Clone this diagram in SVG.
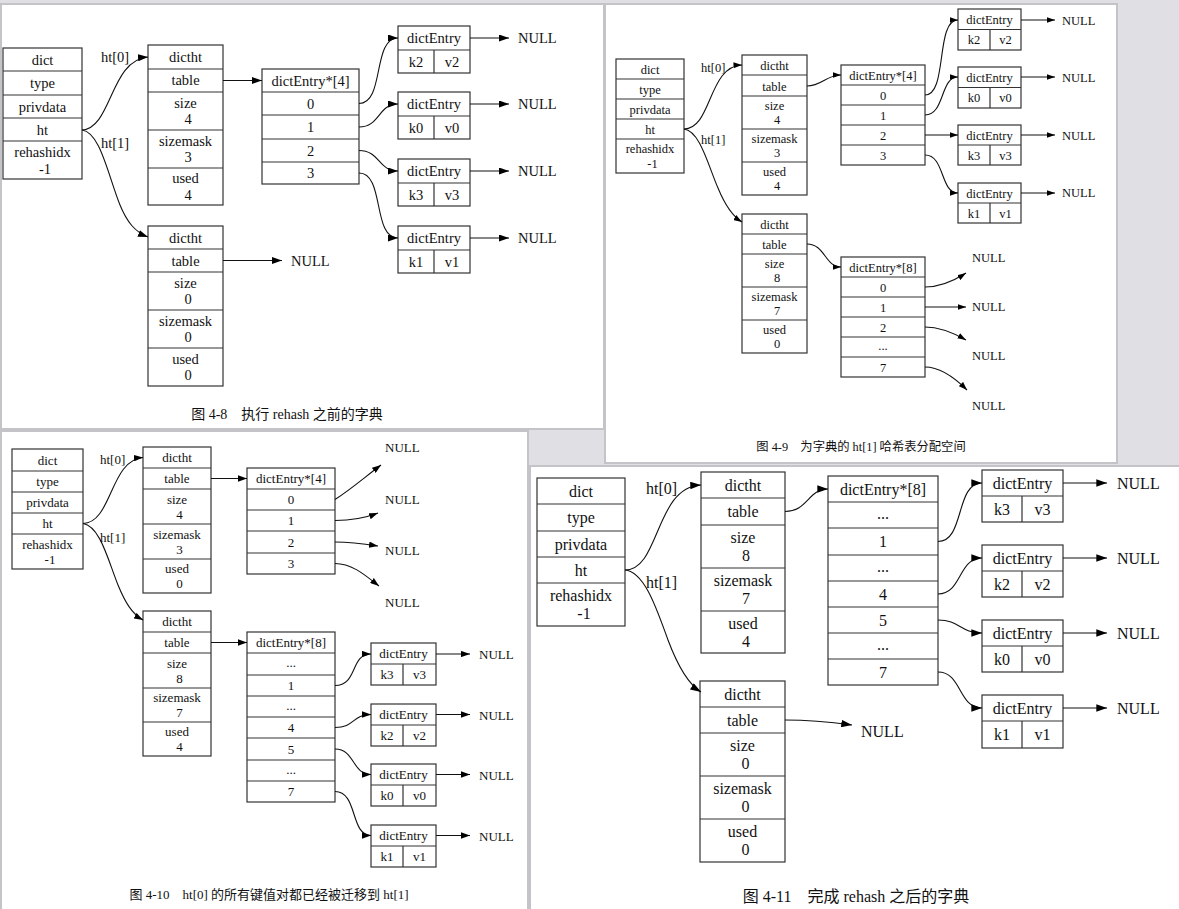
<svg xmlns="http://www.w3.org/2000/svg" width="1179" height="909" viewBox="0 0 1179 909">
<style>
text{font-family:"Liberation Serif","Noto Sans CJK SC",serif;fill:#111;text-anchor:middle}
.f1{font-size:14.5px}.f2{font-size:12.5px}.f3{font-size:13px}.f4{font-size:16px}
.st{text-anchor:start}
.bx rect{fill:#fff;stroke:#333;stroke-width:1.2}
.bx path{fill:none;stroke:#333;stroke-width:1.2}
.e path{fill:none;stroke:#111;stroke-width:1.1}
.panel{fill:#fff;stroke:#c4c4c8;stroke-width:2}
.cap{font-family:"Liberation Serif","Noto Sans CJK SC",serif}
</style>
<defs>
<marker id="a1" viewBox="0 0 10 7" refX="10" refY="3.5" markerWidth="10" markerHeight="7" markerUnits="userSpaceOnUse" orient="auto"><path d="M0,0L10,3.5L0,7z" fill="#000"/></marker>
<marker id="a2" viewBox="0 0 10 7" refX="10" refY="3.5" markerWidth="8.5" markerHeight="6" markerUnits="userSpaceOnUse" orient="auto"><path d="M0,0L10,3.5L0,7z" fill="#000"/></marker>
<marker id="a3" viewBox="0 0 10 7" refX="10" refY="3.5" markerWidth="9" markerHeight="6.5" markerUnits="userSpaceOnUse" orient="auto"><path d="M0,0L10,3.5L0,7z" fill="#000"/></marker>
<marker id="a4" viewBox="0 0 10 7" refX="10" refY="3.5" markerWidth="11" markerHeight="7.5" markerUnits="userSpaceOnUse" orient="auto"><path d="M0,0L10,3.5L0,7z" fill="#000"/></marker>
</defs>
<rect x="0" y="0" width="1179" height="909" fill="#dfdfe4"/>
<rect class="panel" x="1" y="4" width="603" height="425"/>
<rect class="panel" x="605" y="4" width="512" height="459"/>
<rect class="panel" x="1" y="431" width="527" height="480"/>
<rect class="panel" x="530" y="466" width="652" height="445"/>

<!-- ================= Panel 1 : fig 4-8 ================= -->
<g id="p1-dict" class="bx">
<rect x="3" y="48" width="79" height="131"/>
<path d="M3,71H82M3,95H82M3,118H82M3,141H82"/>
<text class="f1" x="42.5" y="65">dict</text>
<text class="f1" x="42.5" y="88">type</text>
<text class="f1" x="42.5" y="112">privdata</text>
<text class="f1" x="42.5" y="135">ht</text>
<text class="f1" x="42.5" y="157">rehashidx</text>
<text class="f1" x="45" y="173.5">-1</text>
</g>
<g id="p1-ht0" class="bx">
<rect x="148" y="45" width="75" height="160"/>
<path d="M148,69H223M148,92H223M148,130H223M148,168H223"/>
<text class="f1" x="185.5" y="62">dictht</text>
<text class="f1" x="185.5" y="85">table</text>
<text class="f1" x="185.5" y="107.5">size</text>
<text class="f1" x="188" y="124">4</text>
<text class="f1" x="185.5" y="145.5">sizemask</text>
<text class="f1" x="188" y="162">3</text>
<text class="f1" x="185.5" y="183">used</text>
<text class="f1" x="188" y="199.5">4</text>
</g>
<g id="p1-ht1" class="bx">
<rect x="148" y="226" width="75" height="160"/>
<path d="M148,249H223M148,272H223M148,310H223M148,348H223"/>
<text class="f1" x="185.5" y="242.5">dictht</text>
<text class="f1" x="185.5" y="265.5">table</text>
<text class="f1" x="185.5" y="287.5">size</text>
<text class="f1" x="188" y="304">0</text>
<text class="f1" x="185.5" y="325.5">sizemask</text>
<text class="f1" x="188" y="342">0</text>
<text class="f1" x="185.5" y="363.5">used</text>
<text class="f1" x="188" y="380">0</text>
</g>
<g id="p1-table" class="bx">
<rect x="262" y="69" width="97" height="115"/>
<path d="M262,92H359M262,115H359M262,139H359M262,162H359"/>
<text class="f1" x="310.5" y="85.5">dictEntry*[4]</text>
<text class="f1" x="310.5" y="108.5">0</text>
<text class="f1" x="310.5" y="132">1</text>
<text class="f1" x="310.5" y="155.5">2</text>
<text class="f1" x="310.5" y="178">3</text>
</g>
<g id="p1-e2" class="bx">
<rect x="398" y="26" width="72" height="47"/><path d="M398,50H470M434,50V73"/>
<text class="f1" x="434" y="43">dictEntry</text><text class="f1" x="416" y="66.5">k2</text><text class="f1" x="452" y="66.5">v2</text>
<text class="f1 st" x="518" y="43">NULL</text>
</g>
<g id="p1-e0" class="bx">
<rect x="398" y="92" width="72" height="47"/><path d="M398,116H470M434,116V139"/>
<text class="f1" x="434" y="109">dictEntry</text><text class="f1" x="416" y="132.5">k0</text><text class="f1" x="452" y="132.5">v0</text>
<text class="f1 st" x="518" y="109">NULL</text>
</g>
<g id="p1-e3" class="bx">
<rect x="398" y="159" width="72" height="47"/><path d="M398,183H470M434,183V206"/>
<text class="f1" x="434" y="176">dictEntry</text><text class="f1" x="416" y="199.5">k3</text><text class="f1" x="452" y="199.5">v3</text>
<text class="f1 st" x="518" y="176">NULL</text>
</g>
<g id="p1-e1" class="bx">
<rect x="398" y="226" width="72" height="47"/><path d="M398,250H470M434,250V273"/>
<text class="f1" x="434" y="243">dictEntry</text><text class="f1" x="416" y="266.5">k1</text><text class="f1" x="452" y="266.5">v1</text>
<text class="f1 st" x="518" y="243">NULL</text>
</g>
<g id="p1-null" class="bx"><text class="f1 st" x="291" y="265.5">NULL</text></g>
<g id="p1-edges" class="e">
<path d="M82,130C112,128 110,60 148,57" marker-end="url(#a1)"/>
<path d="M82,130C100,132 108,175 120,205C127,222 135,232 148,237" marker-end="url(#a1)"/>
<path d="M223,80.5H262" marker-end="url(#a1)"/>
<path d="M223,260.5H282" marker-end="url(#a1)"/>
<path d="M359,103.5C385,103.5 372,38 398,38" marker-end="url(#a1)"/>
<path d="M359,127C380,127 378,104 398,104" marker-end="url(#a1)"/>
<path d="M359,150.5C380,150.5 378,171 398,171" marker-end="url(#a1)"/>
<path d="M359,173C385,173 372,238 398,238" marker-end="url(#a1)"/>
<path d="M470,38H509" marker-end="url(#a1)"/>
<path d="M470,104H509" marker-end="url(#a1)"/>
<path d="M470,171H509" marker-end="url(#a1)"/>
<path d="M470,238H509" marker-end="url(#a1)"/>
<text class="f1 st" x="101" y="62">ht[0]</text>
<text class="f1 st" x="101" y="148">ht[1]</text>
</g>
<text class="cap" x="287" y="419" font-size="14">图 4-8　执行 rehash 之前的字典</text>

<!-- ================= Panel 2 : fig 4-9 ================= -->
<g id="p2-dict" class="bx">
<rect x="616" y="59" width="68" height="114"/>
<path d="M616,79H684M616,99H684M616,119H684M616,139H684"/>
<text class="f2" x="650" y="73.5">dict</text>
<text class="f2" x="650" y="93.5">type</text>
<text class="f2" x="650" y="113.5">privdata</text>
<text class="f2" x="650" y="133.5">ht</text>
<text class="f2" x="650" y="153">rehashidx</text>
<text class="f2" x="652.5" y="167.5">-1</text>
</g>
<g id="p2-ht0" class="bx">
<rect x="742" y="55" width="65" height="140"/>
<path d="M742,75H807M742,96H807M742,129H807M742,162H807"/>
<text class="f2" x="774.5" y="69.5">dictht</text>
<text class="f2" x="774.5" y="90.5">table</text>
<text class="f2" x="774.5" y="109.5">size</text>
<text class="f2" x="777" y="124">4</text>
<text class="f2" x="774.5" y="142.5">sizemask</text>
<text class="f2" x="777" y="157">3</text>
<text class="f2" x="774.5" y="175.5">used</text>
<text class="f2" x="777" y="190">4</text>
</g>
<g id="p2-ht1" class="bx">
<rect x="742" y="214" width="65" height="139"/>
<path d="M742,234H807M742,254H807M742,287H807M742,320H807"/>
<text class="f2" x="774.5" y="228.5">dictht</text>
<text class="f2" x="774.5" y="248.5">table</text>
<text class="f2" x="774.5" y="267.5">size</text>
<text class="f2" x="777" y="282">8</text>
<text class="f2" x="774.5" y="300.5">sizemask</text>
<text class="f2" x="777" y="315">7</text>
<text class="f2" x="774.5" y="333.5">used</text>
<text class="f2" x="777" y="348">0</text>
</g>
<g id="p2-table4" class="bx">
<rect x="841" y="65" width="84" height="100"/>
<path d="M841,85H925M841,105H925M841,125H925M841,145H925"/>
<text class="f2" x="883" y="79.5">dictEntry*[4]</text>
<text class="f2" x="883" y="99.5">0</text>
<text class="f2" x="883" y="119.5">1</text>
<text class="f2" x="883" y="139.5">2</text>
<text class="f2" x="883" y="159.5">3</text>
</g>
<g id="p2-e2" class="bx">
<rect x="958" y="9" width="63" height="41"/><path d="M958,29.5H1021M990,29.5V50"/>
<text class="f2" x="989.5" y="23.5">dictEntry</text><text class="f2" x="974" y="44">k2</text><text class="f2" x="1005.5" y="44">v2</text>
<text class="f2 st" x="1062" y="24.5">NULL</text>
</g>
<g id="p2-e0" class="bx">
<rect x="958" y="67" width="63" height="41"/><path d="M958,87.5H1021M990,87.5V108"/>
<text class="f2" x="989.5" y="81.5">dictEntry</text><text class="f2" x="974" y="102">k0</text><text class="f2" x="1005.5" y="102">v0</text>
<text class="f2 st" x="1062" y="81.5">NULL</text>
</g>
<g id="p2-e3" class="bx">
<rect x="958" y="125" width="63" height="40"/><path d="M958,145H1021M990,145V165"/>
<text class="f2" x="989.5" y="139.5">dictEntry</text><text class="f2" x="974" y="159.5">k3</text><text class="f2" x="1005.5" y="159.5">v3</text>
<text class="f2 st" x="1062" y="139.5">NULL</text>
</g>
<g id="p2-e1" class="bx">
<rect x="958" y="183" width="63" height="40"/><path d="M958,203H1021M990,203V223"/>
<text class="f2" x="989.5" y="197.5">dictEntry</text><text class="f2" x="974" y="217.5">k1</text><text class="f2" x="1005.5" y="217.5">v1</text>
<text class="f2 st" x="1062" y="196.5">NULL</text>
</g>
<g id="p2-table8" class="bx">
<rect x="841" y="257" width="84" height="120"/>
<path d="M841,277H925M841,297H925M841,317H925M841,337H925M841,357H925"/>
<text class="f2" x="883" y="271.5">dictEntry*[8]</text>
<text class="f2" x="883" y="291.5">0</text>
<text class="f2" x="883" y="311.5">1</text>
<text class="f2" x="883" y="331.5">2</text>
<text class="f2" x="883" y="350">...</text>
<text class="f2" x="883" y="371.5">7</text>
</g>
<g id="p2-nulls" class="bx">
<text class="f2 st" x="972" y="262">NULL</text>
<text class="f2 st" x="972" y="311">NULL</text>
<text class="f2 st" x="972" y="360">NULL</text>
<text class="f2 st" x="972" y="410">NULL</text>
</g>
<g id="p2-edges" class="e">
<path d="M684,129C712,129 708,66 742,65" marker-end="url(#a2)"/>
<path d="M684,129C700,131 708,165 718,188C725,205 732,216 742,222" marker-end="url(#a2)"/>
<path d="M807,86C822,86 826,75 841,75" marker-end="url(#a2)"/>
<path d="M925,95C948,95 935,20 958,20" marker-end="url(#a2)"/>
<path d="M925,115C945,115 940,77 958,77" marker-end="url(#a2)"/>
<path d="M925,135H958" marker-end="url(#a2)"/>
<path d="M925,155C945,155 940,193 958,193" marker-end="url(#a2)"/>
<path d="M1021,20H1055" marker-end="url(#a2)"/>
<path d="M1021,77H1055" marker-end="url(#a2)"/>
<path d="M1021,135H1055" marker-end="url(#a2)"/>
<path d="M1021,193H1055" marker-end="url(#a2)"/>
<path d="M807,244C825,244 825,267 841,267" marker-end="url(#a2)"/>
<path d="M925,287C940,287 952,282 966,273" marker-end="url(#a2)"/>
<path d="M925,307H966" marker-end="url(#a2)"/>
<path d="M925,327C940,327 952,332 966,340" marker-end="url(#a2)"/>
<path d="M925,367C940,367 955,378 967,390" marker-end="url(#a2)"/>
<text class="f2 st" x="701" y="72">ht[0]</text>
<text class="f2 st" x="701" y="143.5">ht[1]</text>
</g>
<text class="cap" x="861" y="451" font-size="12.3">图 4-9　为字典的 ht[1] 哈希表分配空间</text>

<!-- ================= Panel 3 : fig 4-10 ================= -->
<g id="p3-dict" class="bx">
<rect x="12" y="449" width="71" height="120"/>
<path d="M12,471H83M12,492H83M12,513H83M12,534H83"/>
<text class="f3" x="47.5" y="464.5">dict</text>
<text class="f3" x="47.5" y="486">type</text>
<text class="f3" x="47.5" y="507">privdata</text>
<text class="f3" x="47.5" y="528">ht</text>
<text class="f3" x="47.5" y="548.5">rehashidx</text>
<text class="f3" x="50" y="563.5">-1</text>
</g>
<g id="p3-ht0" class="bx">
<rect x="143" y="447" width="68" height="146"/>
<path d="M143,468H211M143,489H211M143,524H211M143,559H211"/>
<text class="f3" x="177" y="462">dictht</text>
<text class="f3" x="177" y="483">table</text>
<text class="f3" x="177" y="503.5">size</text>
<text class="f3" x="179.5" y="518.5">4</text>
<text class="f3" x="177" y="538.5">sizemask</text>
<text class="f3" x="179.5" y="553.5">3</text>
<text class="f3" x="177" y="573">used</text>
<text class="f3" x="179.5" y="588">0</text>
</g>
<g id="p3-ht1" class="bx">
<rect x="143" y="611" width="68" height="145"/>
<path d="M143,632H211M143,653H211M143,688H211M143,722H211"/>
<text class="f3" x="177" y="626">dictht</text>
<text class="f3" x="177" y="647">table</text>
<text class="f3" x="177" y="667.5">size</text>
<text class="f3" x="179.5" y="682.5">8</text>
<text class="f3" x="177" y="702">sizemask</text>
<text class="f3" x="179.5" y="717">7</text>
<text class="f3" x="177" y="736">used</text>
<text class="f3" x="179.5" y="751">4</text>
</g>
<g id="p3-table4" class="bx">
<rect x="247" y="468" width="88" height="106"/>
<path d="M247,489H335M247,510H335M247,531H335M247,553H335"/>
<text class="f3" x="291" y="483">dictEntry*[4]</text>
<text class="f3" x="291" y="504">0</text>
<text class="f3" x="291" y="525">1</text>
<text class="f3" x="291" y="546.5">2</text>
<text class="f3" x="291" y="568">3</text>
</g>
<g id="p3-nulls" class="bx">
<text class="f3 st" x="385" y="451.5">NULL</text>
<text class="f3 st" x="385" y="503.5">NULL</text>
<text class="f3 st" x="385" y="554.5">NULL</text>
<text class="f3 st" x="385" y="606.5">NULL</text>
</g>
<g id="p3-table8" class="bx">
<rect x="247" y="632" width="88" height="170"/>
<path d="M247,653H335M247,675H335M247,696H335M247,717H335M247,738H335M247,760H335M247,781H335"/>
<text class="f3" x="291" y="647">dictEntry*[8]</text>
<text class="f3" x="291" y="667">...</text>
<text class="f3" x="291" y="690">1</text>
<text class="f3" x="291" y="709.5">...</text>
<text class="f3" x="291" y="732">4</text>
<text class="f3" x="291" y="753.5">5</text>
<text class="f3" x="291" y="773.5">...</text>
<text class="f3" x="291" y="796">7</text>
</g>
<g id="p3-e3" class="bx">
<rect x="371" y="643" width="65" height="42"/><path d="M371,664H436M403,664V685"/>
<text class="f3" x="403.5" y="658">dictEntry</text><text class="f3" x="387" y="679">k3</text><text class="f3" x="419.5" y="679">v3</text>
<text class="f3 st" x="479" y="658.5">NULL</text>
</g>
<g id="p3-e2" class="bx">
<rect x="371" y="704" width="65" height="42"/><path d="M371,725H436M403,725V746"/>
<text class="f3" x="403.5" y="719">dictEntry</text><text class="f3" x="387" y="740">k2</text><text class="f3" x="419.5" y="740">v2</text>
<text class="f3 st" x="479" y="719.5">NULL</text>
</g>
<g id="p3-e0" class="bx">
<rect x="371" y="764" width="65" height="42"/><path d="M371,785H436M403,785V806"/>
<text class="f3" x="403.5" y="779">dictEntry</text><text class="f3" x="387" y="800">k0</text><text class="f3" x="419.5" y="800">v0</text>
<text class="f3 st" x="479" y="779.5">NULL</text>
</g>
<g id="p3-e1" class="bx">
<rect x="371" y="825" width="65" height="42"/><path d="M371,846H436M403,846V867"/>
<text class="f3" x="403.5" y="840">dictEntry</text><text class="f3" x="387" y="861">k1</text><text class="f3" x="419.5" y="861">v1</text>
<text class="f3 st" x="479" y="840.5">NULL</text>
</g>
<g id="p3-edges" class="e">
<path d="M83,523.5C112,523 110,460 143,457.5" marker-end="url(#a3)"/>
<path d="M83,523.5C100,526 108,560 118,585C125,602 132,614 143,620" marker-end="url(#a3)"/>
<path d="M211,478.5H247" marker-end="url(#a3)"/>
<path d="M211,642.5H247" marker-end="url(#a3)"/>
<path d="M335,499.5C350,490 365,477 381,465" marker-end="url(#a3)"/>
<path d="M335,520.5C352,520.5 365,518 378,513" marker-end="url(#a3)"/>
<path d="M335,542C352,542 365,544 378,546" marker-end="url(#a3)"/>
<path d="M335,563.5C352,563.5 365,575 379,586" marker-end="url(#a3)"/>
<path d="M335,685.5C358,685.5 350,654 371,654" marker-end="url(#a3)"/>
<path d="M335,727.5C355,727.5 352,714.5 371,714.5" marker-end="url(#a3)"/>
<path d="M335,749C355,749 352,774.5 371,774.5" marker-end="url(#a3)"/>
<path d="M335,791.5C358,791.5 350,835.5 371,835.5" marker-end="url(#a3)"/>
<path d="M436,654H470" marker-end="url(#a3)"/>
<path d="M436,714.5H470" marker-end="url(#a3)"/>
<path d="M436,774.5H470" marker-end="url(#a3)"/>
<path d="M436,835.5H470" marker-end="url(#a3)"/>
<text class="f3 st" x="100" y="463.5">ht[0]</text>
<text class="f3 st" x="100" y="542">ht[1]</text>
</g>
<text class="cap" x="269" y="899" font-size="13">图 4-10　ht[0] 的所有键值对都已经被迁移到 ht[1]</text>

<!-- ================= Panel 4 : fig 4-11 ================= -->
<g id="p4-dict" class="bx">
<rect x="537" y="478" width="88" height="148"/>
<path d="M537,504H625M537,531H625M537,557H625M537,583H625"/>
<text class="f4" x="581" y="496.5">dict</text>
<text class="f4" x="581" y="523">type</text>
<text class="f4" x="581" y="549.5">privdata</text>
<text class="f4" x="581" y="575.5">ht</text>
<text class="f4" x="581" y="601">rehashidx</text>
<text class="f4" x="584" y="619">-1</text>
</g>
<g id="p4-ht0" class="bx">
<rect x="701" y="472" width="84" height="181"/>
<path d="M701,498H785M701,525H785M701,568H785M701,611H785"/>
<text class="f4" x="743" y="490.5">dictht</text>
<text class="f4" x="743" y="517">table</text>
<text class="f4" x="743" y="543">size</text>
<text class="f4" x="746" y="561">8</text>
<text class="f4" x="743" y="586">sizemask</text>
<text class="f4" x="746" y="604">7</text>
<text class="f4" x="743" y="628.5">used</text>
<text class="f4" x="746" y="646.5">4</text>
</g>
<g id="p4-ht1" class="bx">
<rect x="700" y="681" width="85" height="181"/>
<path d="M700,707H785M700,733H785M700,776H785M700,819H785"/>
<text class="f4" x="742.5" y="699.5">dictht</text>
<text class="f4" x="742.5" y="725.5">table</text>
<text class="f4" x="742.5" y="751">size</text>
<text class="f4" x="745.5" y="769">0</text>
<text class="f4" x="742.5" y="794">sizemask</text>
<text class="f4" x="745.5" y="812">0</text>
<text class="f4" x="742.5" y="837">used</text>
<text class="f4" x="745.5" y="855">0</text>
</g>
<g id="p4-null" class="bx"><text class="f4 st" x="861" y="736.5">NULL</text></g>
<g id="p4-table8" class="bx">
<rect x="828" y="476" width="110" height="209"/>
<path d="M828,502H938M828,528H938M828,555H938M828,581H938M828,607H938M828,633H938M828,659H938"/>
<text class="f4" x="883" y="494.5">dictEntry*[8]</text>
<text class="f4" x="883" y="518.5">...</text>
<text class="f4" x="883" y="547">1</text>
<text class="f4" x="883" y="571.5">...</text>
<text class="f4" x="883" y="599.5">4</text>
<text class="f4" x="883" y="625.5">5</text>
<text class="f4" x="883" y="649.5">...</text>
<text class="f4" x="883" y="677.5">7</text>
</g>
<g id="p4-e3" class="bx">
<rect x="982" y="470" width="81" height="52"/><path d="M982,496H1063M1022,496V522"/>
<text class="f4" x="1022.5" y="488.5">dictEntry</text><text class="f4" x="1002" y="514.5">k3</text><text class="f4" x="1042.5" y="514.5">v3</text>
<text class="f4 st" x="1117" y="488.5">NULL</text>
</g>
<g id="p4-e2" class="bx">
<rect x="982" y="545" width="81" height="52"/><path d="M982,571H1063M1022,571V597"/>
<text class="f4" x="1022.5" y="563.5">dictEntry</text><text class="f4" x="1002" y="589.5">k2</text><text class="f4" x="1042.5" y="589.5">v2</text>
<text class="f4 st" x="1117" y="563.5">NULL</text>
</g>
<g id="p4-e0" class="bx">
<rect x="982" y="620" width="81" height="52"/><path d="M982,646H1063M1022,646V672"/>
<text class="f4" x="1022.5" y="638.5">dictEntry</text><text class="f4" x="1002" y="664.5">k0</text><text class="f4" x="1042.5" y="664.5">v0</text>
<text class="f4 st" x="1117" y="638.5">NULL</text>
</g>
<g id="p4-e1" class="bx">
<rect x="982" y="695" width="81" height="53"/><path d="M982,721H1063M1022,721V748"/>
<text class="f4" x="1022.5" y="713.5">dictEntry</text><text class="f4" x="1002" y="740">k1</text><text class="f4" x="1042.5" y="740">v1</text>
<text class="f4 st" x="1117" y="713.5">NULL</text>
</g>
<g id="p4-edges" class="e">
<path d="M625,570C660,570 655,487 701,485" marker-end="url(#a4)"/>
<path d="M625,570C645,572 657,610 668,640C677,664 688,684 701,692" marker-end="url(#a4)"/>
<path d="M785,511.5C808,511.5 808,489 828,489" marker-end="url(#a4)"/>
<path d="M785,720C810,720 830,722 852,725" marker-end="url(#a4)"/>
<path d="M938,541.5C965,541.5 955,483 982,483" marker-end="url(#a4)"/>
<path d="M938,594C962,594 958,558 982,558" marker-end="url(#a4)"/>
<path d="M938,620C960,620 960,633 982,633" marker-end="url(#a4)"/>
<path d="M938,672C962,672 958,708 982,708" marker-end="url(#a4)"/>
<path d="M1063,483H1107" marker-end="url(#a4)"/>
<path d="M1063,558H1107" marker-end="url(#a4)"/>
<path d="M1063,633H1107" marker-end="url(#a4)"/>
<path d="M1063,708H1107" marker-end="url(#a4)"/>
<text class="f4 st" x="646" y="493.5">ht[0]</text>
<text class="f4 st" x="646" y="587.5">ht[1]</text>
</g>
<text class="cap" x="856" y="902" font-size="16">图 4-11　完成 rehash 之后的字典</text>
</svg>
